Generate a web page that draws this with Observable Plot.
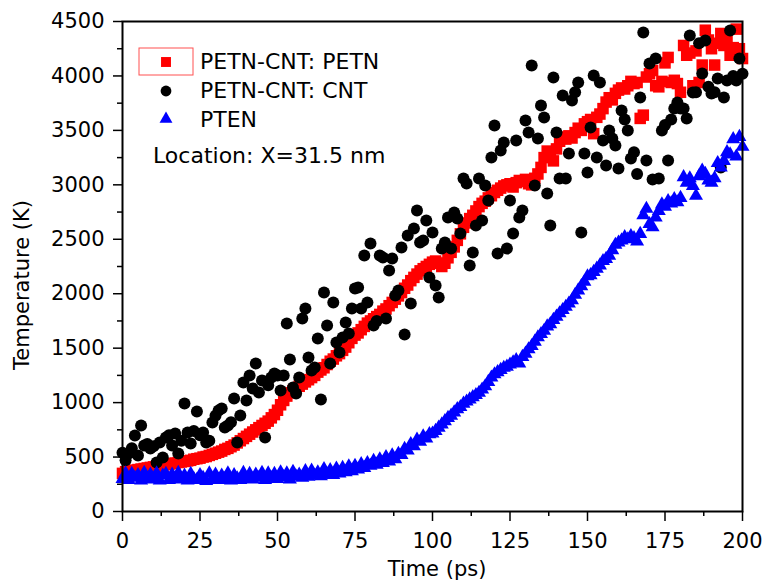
<!DOCTYPE html>
<html>
<head>
<meta charset="utf-8">
<script src="https://cdn.jsdelivr.net/npm/d3@7"></script>
<script src="https://cdn.jsdelivr.net/npm/@observablehq/plot@0.6"></script>
<style>
  body { margin: 0; background: #fff; }
  #chart { width: 764px; height: 582px; }
</style>
</head>
<body>
<div id="chart"></div>
<script>
// ---- data ----
const time = [
  0,1,2,3,4,5,6,7,8,9,10,11,12,13,14,15,16,17,18,19,
  20,21,22,23,24,25,26,27,28,29,30,31,32,33,34,35,36,37,38,39,
  40,41,42,43,44,45,46,47,48,49,50,51,52,53,54,55,56,57,58,59,
  60,61,62,63,64,65,66,67,68,69,70,71,72,73,74,75,76,77,78,79,
  80,81,82,83,84,85,86,87,88,89,90,91,92,93,94,95,96,97,98,99,
  100,101,102,103,104,105,106,107,108,109,110,111,112,113,114,115,116,117,118,119,
  120,121,122,123,124,125,126,127,128,129,130,131,132,133,134,135,136,137,138,139,
  140,141,142,143,144,145,146,147,148,149,150,151,152,153,154,155,156,157,158,159,
  160,161,162,163,164,165,166,167,168,169,170,171,172,173,174,175,176,177,178,179,
  180,181,182,183,184,185,186,187,188,189,190,191,192,193,194,195,196,197,198,199,
  200
];

// PETN-CNT: PETN (red squares)
const petnTemp = [
  350,365,370,380,375,385,390,395,400,405,
  410,415,420,425,430,435,440,445,450,455,
  460,465,470,480,485,490,500,505,515,525,
  535,545,555,570,580,595,610,630,650,670,
  690,710,730,750,770,790,810,830,860,890,
  930,980,1020,1060,1090,1110,1130,1150,1170,1190,
  1210,1230,1250,1280,1300,1320,1350,1380,1400,1430,
  1450,1480,1510,1550,1590,1620,1640,1670,1700,1730,
  1750,1770,1790,1810,1840,1860,1890,1920,1950,1980,
  2010,2050,2080,2120,2150,2180,2210,2230,2250,2270,
  2290,2300,2280,2250,2280,2330,2380,2430,2490,2550,
  2610,2650,2690,2720,2760,2800,2830,2850,2880,2900,
  2930,2950,2970,2990,3000,3010,2980,3020,3040,3030,
  3050,3010,3000,3060,3100,3160,3250,3310,3280,3220,
  3330,3400,3440,3420,3450,3430,3480,3520,3500,3560,
  3580,3600,3470,3620,3650,3700,3760,3800,3780,3840,
  3870,3890,3880,3910,3950,3930,3940,3610,3640,3990,
  4020,4050,3910,3900,3950,4120,4170,3940,3960,3930,
  3850,4280,4190,4210,3910,4230,3940,4100,4420,4330,
  4250,4100,4300,4390,4280,4350,4190,4260,4430,4250,
  4160
];

// PETN-CNT: CNT (black circles)
const cntTemp = [
  540,470,533,580,698,514,790,606,620,578,
  600,450,634,496,680,700,606,716,533,650,
  992,725,625,740,918,700,725,634,650,817,
  880,928,946,771,790,820,1038,634,882,1185,
  1020,1249,1130,1359,1093,1203,680,1160,1231,1267,
  1250,1111,1249,1727,1396,1139,1084,1231,1773,1864,
  1414,1295,1322,1589,1029,2011,1708,1359,1919,1552,
  1460,1598,1736,1635,1864,2048,2057,1864,2351,1919,
  2461,1708,1750,2351,2333,1773,2213,2324,1984,2030,
  2425,1625,2535,1910,2599,2764,2470,2489,2672,2149,
  2562,2076,1965,2415,2470,2700,2415,2746,2691,2553,
  3058,3012,2259,2378,2627,3058,2672,2994,2856,3251,
  3545,2369,3315,3389,2415,2856,2553,3407,2700,2764,
  3591,3481,4096,2994,3426,3729,3618,2920,2627,3986,
  3481,3058,3820,3058,3288,3775,3850,3940,2562,3288,
  3113,3527,4004,3251,3940,3407,3178,3499,3426,3361,
  3150,3683,3600,3499,3242,3300,3100,3802,4399,3224,
  4114,3050,4160,3058,3499,3550,3224,3600,3700,3756,
  3700,3701,3609,4372,3848,3850,4300,4022,4326,3900,
  3839,3850,3977,3159,3802,3958,4418,4000,3958,4160,
  4020
];

// PTEN (blue triangles)
const ptenTemp = [
  300,350,290,345,310,335,285,355,300,340,
  295,350,285,330,345,290,340,300,355,295,
  330,285,345,300,290,335,310,280,350,295,
  340,290,330,300,350,285,335,305,290,355,
  300,345,295,340,310,355,290,350,305,345,
  300,360,315,350,295,365,320,340,310,370,
  320,375,330,360,325,390,340,380,335,395,
  350,400,360,415,370,420,385,435,400,445,
  420,465,430,480,445,500,460,515,480,530,
  520,575,560,620,600,660,640,690,670,710,
  716,740,770,800,830,860,880,910,940,960,
  990,1010,1030,1050,1070,1090,1120,1150,1190,1230,
  1260,1280,1300,1320,1330,1350,1370,1390,1360,1420,
  1450,1490,1520,1560,1600,1630,1660,1700,1720,1760,
  1790,1820,1850,1880,1910,1940,1990,2030,2070,2110,
  2160,2170,2200,2230,2260,2300,2320,2350,2400,2450,
  2470,2490,2520,2500,2530,2510,2480,2550,2720,2780,
  2640,2610,2700,2760,2820,2800,2850,2830,2870,2840,
  2880,3070,3020,3060,2990,2900,3080,3130,3100,3040,
  3020,3060,3200,3160,3220,3300,3280,3420,3260,3440,
  3350
];

const xMajorTicks = [0, 25, 50, 75, 100, 125, 150, 175, 200];
const xMinorTicks = [12.5, 37.5, 62.5, 87.5, 112.5, 137.5, 162.5, 187.5];
const yMajorTicks = [0, 500, 1000, 1500, 2000, 2500, 3000, 3500, 4000, 4500];
const yMinorTicks = [250, 750, 1250, 1750, 2250, 2750, 3250, 3750, 4250];

const seriesNames = ["PETN-CNT: PETN", "PETN-CNT: CNT", "PTEN"];
const seriesColors = ["#ff0000", "#000000", "#0000ff"];
const annotationText = "Location: X=31.5 nm";
const xLabel = "Time (ps)";
const yLabel = "Temperature (K)";

// ---- build ----
const toRows = (vals) => time.map((t, i) => ({t, T: vals[i]}));

const R_SQ = 6.5, R_CI = 6.0, R_TR = 5.2;

const chart = Plot.plot({
  width: 764,
  height: 582,
  marginLeft: 122,
  marginRight: 22,
  marginTop: 21,
  marginBottom: 71,
  style: {fontFamily: "DejaVu Sans", fontSize: "21px", background: "white", color: "black"},
  x: {domain: [0, 200]},
  y: {domain: [0, 4500]},
  marks: [
    Plot.dot(toRows(petnTemp), {x: "t", y: "T", symbol: "square", r: R_SQ, fill: seriesColors[0]}),
    Plot.dot(toRows(cntTemp), {x: "t", y: "T", symbol: "circle", r: R_CI, fill: seriesColors[1]}),
    Plot.dot(toRows(ptenTemp), {x: "t", y: "T", symbol: "triangle", r: R_TR, fill: seriesColors[2]}),
    Plot.frame({stroke: "black", strokeWidth: 2}),
    Plot.axisX(xMajorTicks, {tickSize: 10, tickPadding: 12, label: null, strokeWidth: 1.5, tickFormat: d3.format("d")}),
    Plot.axisX(xMinorTicks, {tickSize: 5, tickFormat: () => "", label: null, strokeWidth: 1.5}),
    Plot.axisY(yMajorTicks, {tickSize: 9, tickPadding: 9, label: null, strokeWidth: 1.5, tickFormat: d3.format("d")}),
    Plot.axisY(yMinorTicks, {tickSize: 5, tickFormat: () => "", label: null, strokeWidth: 1.5})
  ]
});
document.getElementById("chart").appendChild(chart);

// ---- axis titles, legend (decorations) ----
const svg = d3.select(chart);
svg.append("text")
  .attr("x", 437).attr("y", 576)
  .attr("text-anchor", "middle")
  .attr("font-size", 21)
  .text(xLabel);
svg.append("text")
  .attr("transform", "translate(29,285) rotate(-90)")
  .attr("text-anchor", "middle")
  .attr("font-size", 21)
  .text(yLabel);

const legR = [5.6, 5.4, 4.8];
const leg = svg.append("g").attr("font-size", 22).attr("text-anchor", "start");
leg.append("rect")
  .attr("x", 139).attr("y", 48).attr("width", 54).attr("height", 27)
  .attr("fill", "none").attr("stroke", "#ff5050").attr("stroke-width", 1);
const legSymbols = [d3.symbolSquare, d3.symbolCircle, d3.symbolTriangle];
const legSymY = [62, 91, 119];
const legTextY = [69, 98, 127];
seriesNames.forEach((name, i) => {
  leg.append("path")
    .attr("transform", `translate(166,${legSymY[i]})`)
    .attr("d", d3.symbol(legSymbols[i], Math.PI * legR[i] * legR[i])())
    .attr("fill", seriesColors[i]);
  leg.append("text")
    .attr("x", 200).attr("y", legTextY[i])
    .attr("text-anchor", "start")
    .text(name);
});
leg.append("text")
  .attr("x", 153).attr("y", 163)
  .attr("text-anchor", "start")
  .text(annotationText);
</script>
</body>
</html>
